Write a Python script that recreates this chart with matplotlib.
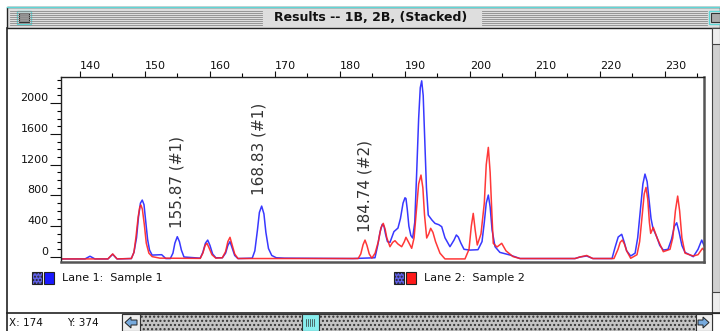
import numpy as np
import matplotlib
matplotlib.use("Agg")
import matplotlib.pyplot as plt
from matplotlib.patches import Rectangle, Polygon
from matplotlib.ticker import MultipleLocator

# lane 1 (blue) trace
lane1_x = [137.08, 140.77, 141.54, 142.3, 144.3, 145.03, 145.7, 147.7,
           147.9, 148.3, 148.7, 149.0, 149.3, 149.58, 149.85, 150.1, 150.4, 150.7, 151.1,
           152.57, 153.2, 153.9, 154.3, 154.6, 154.97, 155.3, 155.6, 156.0,
           158.5, 158.9, 159.3, 159.65, 160.0, 160.4, 160.9,
           161.9, 162.4, 162.75, 163.08, 163.4, 163.8, 164.3,
           166.5, 166.9, 167.3, 167.6, 167.95, 168.3, 168.6, 169.0, 169.5, 170.2,
           171.5, 182.0, 185.38,
           185.8, 186.15, 186.5, 186.77, 187.0, 187.3, 187.69, 188.0, 188.3, 188.92,
           189.3, 189.7, 190.0, 190.15, 190.35, 190.6, 190.9, 191.18,
           191.5, 191.8, 192.1, 192.35, 192.57, 192.8, 193.05, 193.3, 193.58,
           194.15, 194.62, 195.2, 195.65, 196.15, 196.92, 197.54, 197.9, 198.2, 198.6,
           199.08, 200.0, 201.23, 201.85, 202.2, 202.5, 202.82, 203.1, 203.4, 203.85,
           204.6, 206.15, 207.7, 216.15, 216.92, 217.95, 218.9,
           221.85, 222.3, 222.8, 223.34, 223.7, 224.1, 224.72,
           225.4, 225.8, 226.2, 226.6, 226.92, 227.25, 227.6, 227.85,
           228.15, 228.72, 229.2, 229.74, 230.46, 231.0, 231.45, 231.8, 232.15, 232.6,
           233.08, 234.35, 235.08, 235.65, 236.0]
lane1_y = [-25, -25, 10, -25, -25, 35, -25, -20,
           -20, 60, 250, 520, 700, 740, 680, 480, 230, 90, 25,
           30, -20, -20, 50, 180, 264, 200, 90, 0,
           -15, 60, 180, 220, 150, 40, -10,
           -10, 50, 150, 200, 120, 20, -20,
           -15, 80, 350, 580, 662, 560, 320, 110, 20, -10,
           -15, -20, -10,
           150, 320, 425, 400, 300, 200, 190, 260, 330, 376,
           500, 700, 770, 760, 620, 400, 280, 247,
           450, 1100, 1800, 2200, 2290, 2100, 1500, 900, 545,
           480, 437, 420, 394, 250, 134, 220, 286, 260, 180,
           100, 90, 95, 200, 450, 700, 805, 650, 350, 134,
           60, 26, -20, -20, 0, 13, -20,
           -20, 120, 260, 295, 200, 80, 13,
           50, 250, 600, 950, 1078, 980, 700, 500,
           372, 264, 150, 90, 100, 230, 400, 445, 330, 150,
           60, 4, 100, 220, 150]

# lane 2 (red) trace
lane2_x = [137.08, 144.3, 145.03, 145.7, 147.85,
           147.9, 148.3, 148.6, 148.95, 149.2, 149.38, 149.6, 149.9, 150.2, 150.6, 151.1,
           152.3, 158.5, 158.9, 159.25, 159.54, 159.85, 160.3, 160.9,
           161.9, 162.4, 162.75, 163.08, 163.4, 163.8, 164.3,
           182.3, 182.8, 183.2, 183.55, 183.85, 184.15, 184.5, 184.9,
           185.4, 185.9, 186.3, 186.66, 186.95, 187.2, 187.69, 188.1, 188.46, 188.9,
           189.49, 189.9, 190.15, 190.5, 191.03,
           191.4, 191.75, 192.1, 192.46, 192.75, 193.0, 193.34,
           193.65, 193.95, 194.3, 194.7, 195.38, 196.15, 199.23,
           199.85, 200.2, 200.5, 200.8, 201.12, 201.69, 202.2, 202.5, 202.82, 203.1, 203.35, 203.58,
           204.15, 204.88, 205.54, 206.62, 207.7, 216.15, 216.92, 217.95, 218.9,
           222.15, 222.77, 223.1, 223.43, 223.75, 224.1, 224.72,
           225.69, 226.1, 226.5, 226.8, 227.08, 227.35, 227.6, 227.8, 228.2, 228.77,
           229.74, 230.77, 231.2, 231.6, 231.95, 232.25, 232.6, 233.08,
           234.35, 235.08, 235.77, 236.0]
lane2_y = [-25, -25, 40, -25, -20,
           -20, 60, 250, 520, 650, 675, 620, 420, 180, 50, 5,
           -15, -18, 50, 150, 178, 120, 30, -15,
           -10, 70, 200, 256, 160, 40, -20,
           -20, -20, 40, 160, 220, 150, 40, -15,
           50, 200, 380, 437, 360, 250, 134, 190, 212, 170,
           134, 200, 256, 200, 113,
           250, 600, 950, 1065, 900, 550, 247,
           300, 373, 320, 200, 50, -25, -25,
           100, 400, 567, 350, 156, 300, 700, 1200, 1425, 1100, 600, 178,
           130, 178, 80, 5, -20, -20, 0, 20, -20,
           -20, 100, 190, 220, 170, 80, -17,
           30, 200, 550, 820, 905, 750, 450, 307, 385, 250,
           69, 100, 250, 600, 792, 600, 250, 50,
           13, 30, 113, 90]

# peak calls
call_x = [154.92, 167.54, 183.85]
call_y = [377, 805, 325]
call_labels = ["155.87 (#1)", "168.83 (#1)", "184.74 (#2)"]

lane_names = ["Lane 1:  Sample 1", "Lane 2:  Sample 2"]
window_title = "Results -- 1B, 2B, (Stacked)"
status_text = ["X: 174", "Y: 374"]

W, H = 720, 331
fig = plt.figure(figsize=(W / 100, H / 100), dpi=100)

# window chrome, drawn in pixel coordinates
bg = fig.add_axes([0, 0, 1, 1])
bg.set_xlim(0, W)
bg.set_ylim(H, 0)
bg.axis("off")

bg.add_patch(Rectangle((7, 7), 713, 21, facecolor="#dedede", edgecolor="#222", lw=1))
bg.plot([7, 720], [6.5, 6.5], color="#5fd7d7", lw=1)
for yy in np.arange(11, 26, 2):
    bg.plot([10, 262], [yy, yy], color="#8a8a8a", lw=0.6)
    bg.plot([482, 707], [yy, yy], color="#8a8a8a", lw=0.6)
bg.add_patch(Rectangle((17, 11), 14, 13, facecolor="#dedede", edgecolor="#5fd7d7", lw=1))
bg.add_patch(Rectangle((19, 13), 10, 9, facecolor="#999", edgecolor="#333", lw=0.8))
bg.add_patch(Rectangle((709, 11), 11, 13, facecolor="#dedede", edgecolor="#5fd7d7", lw=1))
bg.add_patch(Rectangle((711, 13), 9, 9, facecolor="#aaa", edgecolor="#333", lw=0.8))
bg.text(371, 17.5, window_title, ha="center", va="center", fontsize=9,
        fontweight="bold", family="DejaVu Sans", color="#111")

# left border, right scrollbar, status bar
bg.plot([7, 7], [28, 331], color="#222", lw=1.2)
bg.add_patch(Rectangle((712, 28), 8, 285, facecolor="#d0d0d0", edgecolor="#444", lw=0.8))
bg.add_patch(Rectangle((712, 28), 8, 16, facecolor="#eeeeee", edgecolor="#444", lw=0.8))
bg.add_patch(Rectangle((712, 292), 8, 21, facecolor="#eeeeee", edgecolor="#444", lw=0.8))
bg.plot([7, 720], [313, 313], color="#222", lw=1.2)
bg.text(9, 323, status_text[0], ha="left", va="center", fontsize=7.5, color="#111")
bg.text(67, 323, status_text[1], ha="left", va="center", fontsize=7.5, color="#111")
bg.add_patch(Rectangle((122, 314), 590, 17, facecolor="#c4c4c4", edgecolor="#333",
                       lw=0.8, hatch="....", zorder=1))
bg.add_patch(Rectangle((122, 314), 18, 17, facecolor="#eeeeee", edgecolor="#333", lw=0.8, zorder=2))
bg.add_patch(Polygon([[125, 322.5], [131, 317], [131, 320], [137, 320], [137, 325], [131, 325],
                      [131, 328]], closed=True, facecolor="#7ad", edgecolor="#222", lw=0.7, zorder=3))
bg.add_patch(Rectangle((696, 314), 16, 17, facecolor="#eeeeee", edgecolor="#333", lw=0.8, zorder=2))
bg.add_patch(Polygon([[709, 322.5], [703, 317], [703, 320], [698, 320], [698, 325], [703, 325],
                      [703, 328]], closed=True, facecolor="#7ad", edgecolor="#222", lw=0.7, zorder=3))
bg.add_patch(Rectangle((302, 314), 17, 17, facecolor="#8ee", edgecolor="#333", lw=0.8, zorder=2))
for xx in np.arange(306, 316, 2):
    bg.plot([xx, xx], [319, 326], color="#333", lw=0.5, zorder=3)

# legend swatches
lane_colors = ["#1a1aff", "#ff1a1a"]
leg_x = [32, 394]
for lx, name, col in zip(leg_x, lane_names, lane_colors):
    bg.add_patch(Rectangle((lx, 272), 10, 12, facecolor="#6060e8", edgecolor="#222",
                           lw=0.8, hatch="....."))
    bg.add_patch(Rectangle((lx + 12, 272), 10, 12, facecolor=col, edgecolor="#222", lw=0.8))
    bg.text(lx + 30, 278, name, ha="left", va="center", fontsize=8, color="#111")

# plot area
ax = fig.add_axes([61 / W, 1 - 262 / H, 643 / W, 185 / H])
ax.plot(lane1_x, lane1_y, color="#2222ff", lw=1.1, alpha=0.9)
ax.plot(lane2_x, lane2_y, color="#ff2222", lw=1.1, alpha=0.9)
for cx, cy, lab in zip(call_x, call_y, call_labels):
    ax.text(cx, cy, lab, rotation=90, ha="center", va="bottom", fontsize=11, color="#333")

ax.set_xlim(137.08, 236.0)
ax.set_ylim(-65, 2340)
for s in ax.spines.values():
    s.set_color("#222")
    s.set_linewidth(1.0)
ax.spines["bottom"].set_linewidth(1.8)
ax.spines["right"].set_linewidth(1.8)
ax.spines["bottom"].set_color("#555")
ax.spines["right"].set_color("#555")

ax.xaxis.tick_top()
ax.xaxis.set_major_locator(MultipleLocator(10))
ax.xaxis.set_minor_locator(MultipleLocator(5))
ax.tick_params(axis="x", which="major", length=4, width=0.8, pad=0.5, labelsize=8, colors="#111")
ax.tick_params(axis="x", which="minor", length=3, width=0.8)
for t in ax.get_xticklabels():
    t.set_ha("left")

ax.yaxis.set_major_locator(MultipleLocator(400))
ax.yaxis.set_minor_locator(MultipleLocator(100))
ax.set_yticks(np.arange(0, 2001, 400))
ax.tick_params(axis="y", which="major", length=8, width=0.8, pad=1, labelsize=8, colors="#111")
ax.tick_params(axis="y", which="minor", length=3, width=0.8)
for t in ax.get_yticklabels():
    t.set_va("bottom")

fig.savefig("out.png", dpi=100)
